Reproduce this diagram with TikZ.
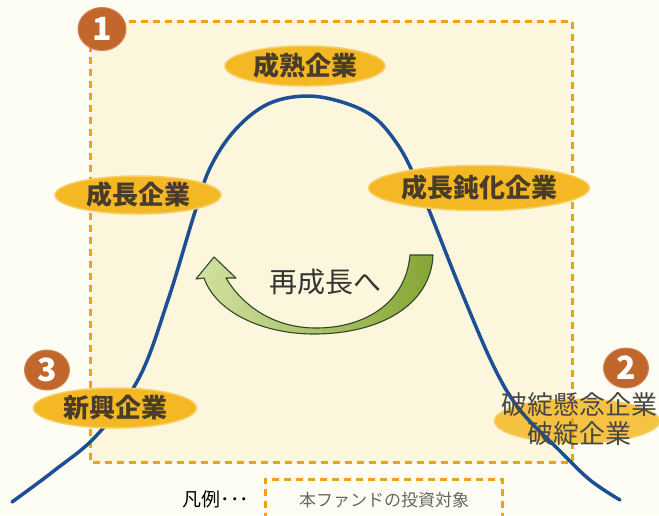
\documentclass[tikz,border=0pt]{standalone}
\usepackage{fontspec}
\setmainfont{Noto Sans CJK JP}
\usetikzlibrary{shapes.geometric}
\definecolor{bgc}{HTML}{FEFDF4}
\definecolor{boxfill}{HTML}{FCF7DC}
\definecolor{dashc}{HTML}{F2A01A}
\definecolor{gold}{HTML}{F5B825}
\definecolor{goldedge}{HTML}{F8CD62}
\definecolor{txtc}{HTML}{4A3C2A}
\definecolor{numc}{HTML}{C2672C}
\definecolor{curvec}{HTML}{1D4F96}
\definecolor{arrowdark}{HTML}{2E4526}
\definecolor{greenL}{HTML}{D2E2A2}
\definecolor{greenR}{HTML}{86A534}
\begin{document}
\begin{tikzpicture}[x=1pt,y=-1pt,
  lbl/.style={ellipse, fill=gold, draw=goldedge, line width=1.5pt, inner sep=0pt,
    font=\bfseries\fontsize{26}{28}\selectfont, text=txtc},
  numdot/.style={ellipse, fill=numc, draw=numc!80!white, line width=1pt, text=white, inner sep=0pt,
    minimum width=48pt, minimum height=43pt, font=\bfseries\fontsize{32}{32}\selectfont},
  dashbox/.style={draw=dashc, line width=3pt, dash pattern=on 7pt off 5pt},
  curvestyle/.style={draw=curvec, line width=3.5pt, line cap=round}]
\useasboundingbox (0,0) rectangle (659,515);
\fill[bgc] (0,0) rectangle (659,515);
% region 1 box fill
\fill[boxfill] (90,21) rectangle (572,462);
% failing companies ellipse (under the box edge and curve)
\node[lbl, minimum width=165pt, minimum height=44pt, opacity=0.85] (fail) at (577,421) {};
% box border
\draw[dashbox] (90,21) rectangle (572,462);
% life cycle curve
\draw[curvestyle] plot[smooth, tension=0.6] coordinates {(12,502) (55,470) (97,435) (139,378) (168,300) (194,215) (210,168) (235,130) (268,104) (307,96) (345,103) (375,118) (398,145) (414,175) (429,210) (462,293) (494,367) (520,410) (559,450) (590,480) (620,500)};
% re-growth arrow
\shadedraw[left color=greenL, right color=greenR, draw=arrowdark, line width=1.1pt, line join=round]
  (433,255) .. controls (431,305) and (380,334) .. (314,334)
  .. controls (262,334) and (216,312) .. (204,278)
  -- (196,279) -- (214,257) -- (236,278) -- (226,278)
  .. controls (244,308) and (276,328) .. (316,328)
  .. controls (366,328) and (406,302) .. (410,255) -- cycle;
\node[font=\fontsize{28}{30}\selectfont, text=black!80] (regrow) at (325,282) {再成長へ};
% stage labels
\node[lbl, minimum width=160pt, minimum height=40pt] (mature) at (305,66) {成熟企業};
\node[lbl, minimum width=166pt, minimum height=38pt] (growth) at (138,195) {成長企業};
\node[lbl, minimum width=168pt, minimum height=45pt] (slow) at (479,188) {成長鈍化企業};
\node[lbl, minimum width=163pt, minimum height=40pt] (emerging) at (115,408) {新興企業};
\node[font=\fontsize{26}{28}\selectfont, text=black!72, align=center] (failtxt) at (579,419) {破綻懸念企業\\[1pt]破綻企業};
% numbered markers
\node[numdot] (n1) at (102,29) {1};
\node[numdot, minimum width=45pt, minimum height=40pt] (n2) at (626,368) {2};
\node[numdot, minimum width=45pt, minimum height=40pt] (n3) at (47,370) {3};
% legend
\node[font=\fontsize{19}{20}\selectfont, text=black] (legend) at (216,499) {凡例･･･};
\draw[dashbox] (265,520) -- (265,479) -- (502,479) -- (502,520);
\node[font=\fontsize{17}{18}\selectfont, text=black!60] (legtxt) at (384,500) {本ファンドの投資対象};
\end{tikzpicture}
\end{document}
